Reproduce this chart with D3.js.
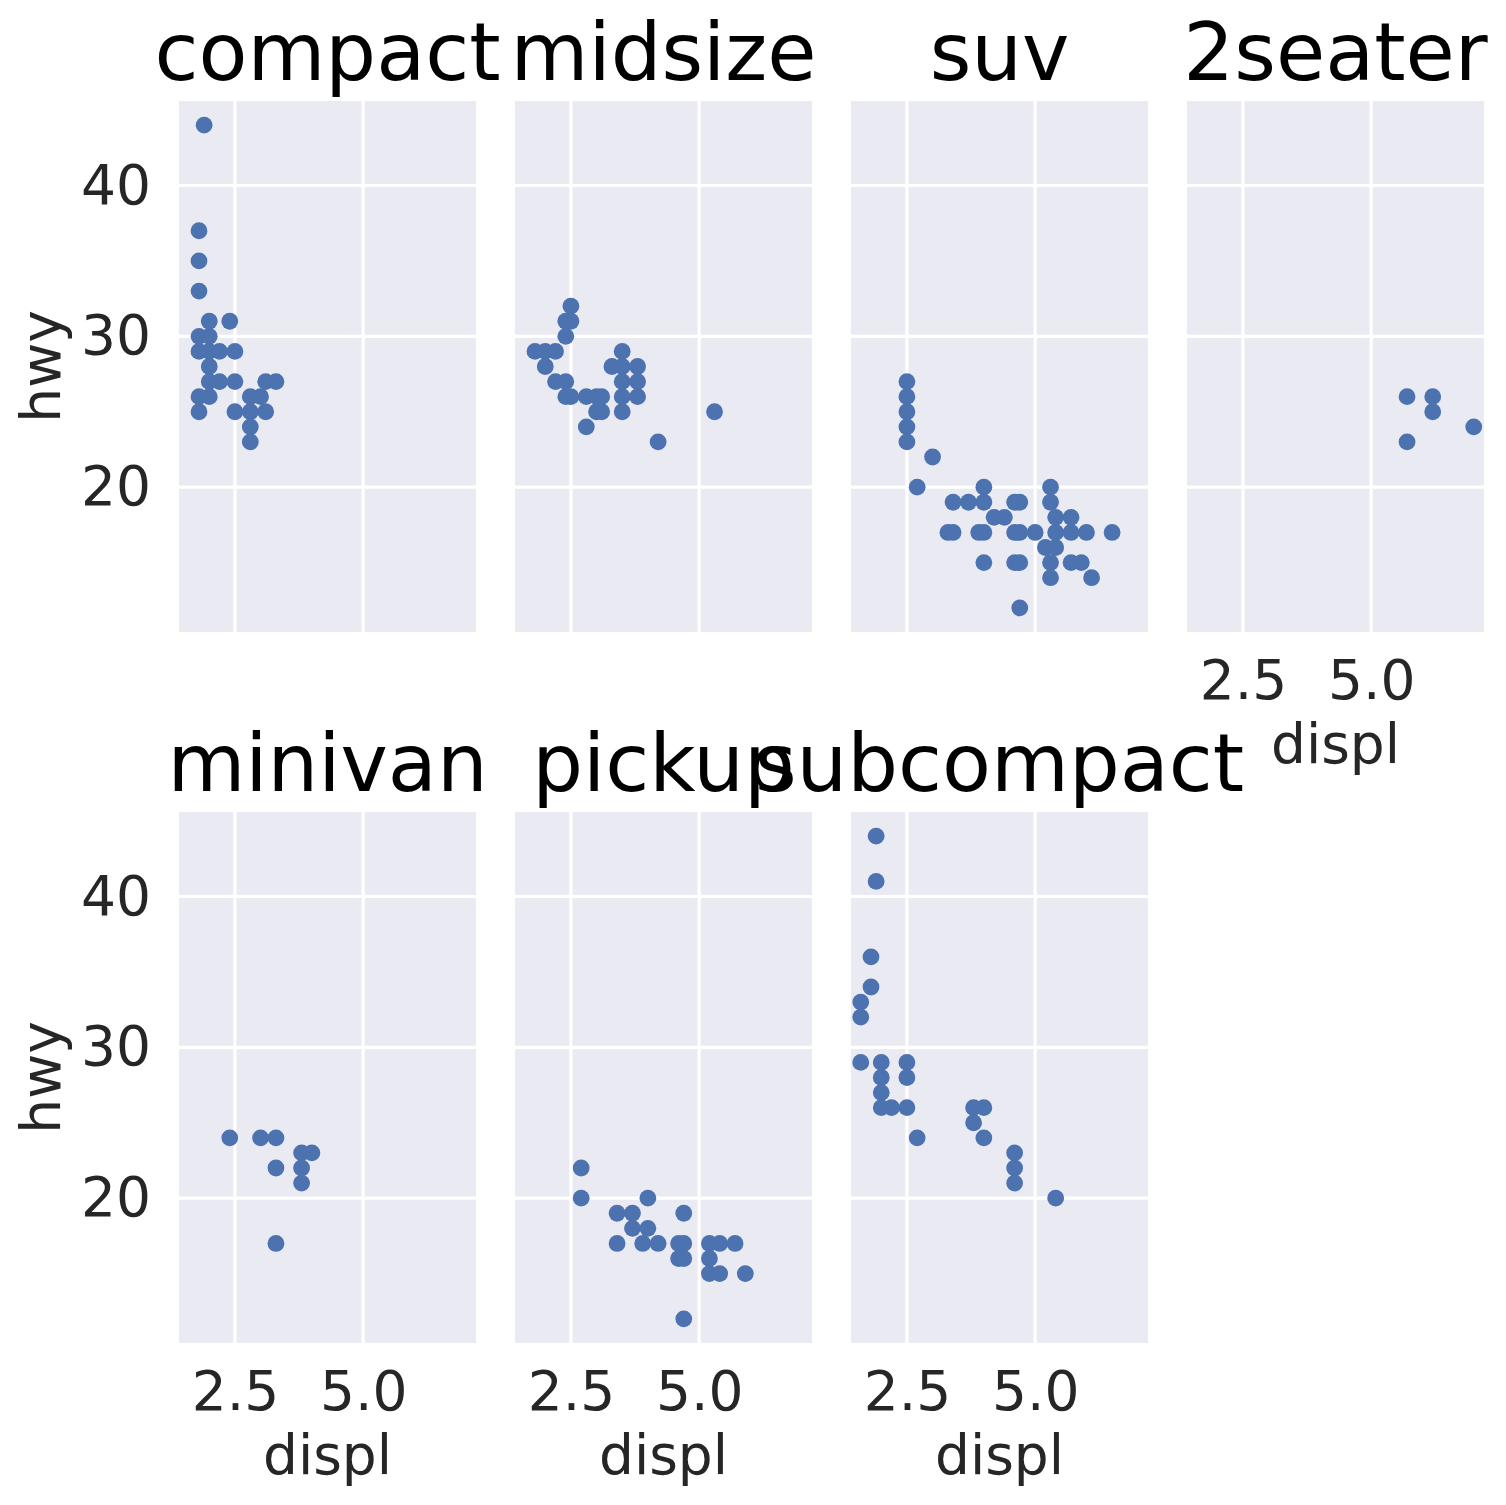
<!DOCTYPE html>
<html>
<head>
<meta charset="utf-8">
<script src="https://cdn.jsdelivr.net/npm/d3@7"></script>
<style>
  body { margin: 0; background: #fff; }
  text { font-family: "DejaVu Sans", sans-serif; }
</style>
</head>
<body>
<div id="chart"></div>
<script>
// panel order, left to right, top to bottom
var classes = ["compact", "midsize", "suv", "2seater", "minivan", "pickup", "subcompact"];

// [displ, hwy] pairs
var compact = [[1.9,44],[1.8,37],[1.8,35],[1.8,33],[2.0,31],[2.4,31],[1.8,30],[2.0,30],
	[1.8,29],[2.0,29],[2.2,29],[2.5,29],[2.0,28],[2.0,27],[2.2,27],[2.5,27],[3.1,27],[3.3,27],
	[1.8,26],[2.0,26],[2.8,26],[3.0,26],[1.8,25],[2.5,25],[2.8,25],[3.1,25],[2.8,24],[2.8,23]];
var midsize = [[2.5,32],[2.4,31],[2.5,31],[2.4,30],[1.8,29],[2.0,29],[2.2,29],[3.5,29],
	[2.0,28],[3.3,28],[3.5,28],[3.8,28],[2.2,27],[2.4,27],[3.5,27],[3.8,27],
	[2.4,26],[2.5,26],[2.8,26],[3.0,26],[3.1,26],[3.5,26],[3.8,26],
	[3.0,25],[3.1,25],[3.5,25],[5.3,25],[2.8,24],[4.2,23]];
var suv = [[2.5,27],[2.5,26],[2.5,25],[2.5,24],[2.5,23],[3.0,22],[2.7,20],[4.0,20],[5.3,20],
	[3.4,19],[3.7,19],[4.0,19],[4.6,19],[4.7,19],[5.3,19],[4.2,18],[4.4,18],[5.4,18],[5.7,18],
	[3.3,17],[3.4,17],[3.9,17],[4.0,17],[4.6,17],[4.7,17],[5.0,17],[5.4,17],[5.7,17],[6.0,17],[6.5,17],
	[5.2,16],[5.4,16],[4.0,15],[4.6,15],[4.7,15],[5.3,15],[5.7,15],[5.9,15],[5.3,14],[6.1,14],[4.7,12]];
var twoSeater = [[5.7,26],[5.7,23],[6.2,26],[6.2,25],[7.0,24]];
var minivan = [[2.4,24],[3.0,24],[3.3,24],[3.3,22],[3.3,17],[3.8,23],[4.0,23],[3.8,22],[3.8,21]];
var pickup = [[2.7,22],[2.7,20],[4.0,20],[3.4,19],[3.7,19],[4.7,19],[3.7,18],[4.0,18],
	[3.4,17],[3.9,17],[4.2,17],[4.6,17],[4.7,17],[5.2,17],[5.4,17],[5.7,17],
	[4.6,16],[4.7,16],[5.2,16],[5.2,15],[5.4,15],[5.9,15],[4.7,12]];
var subcompact = [[1.9,44],[1.9,41],[1.8,36],[1.8,34],[1.6,33],[1.6,32],[1.6,29],[2.0,29],[2.5,29],
	[2.0,28],[2.5,28],[2.0,27],[2.0,26],[2.2,26],[2.5,26],[3.8,26],[4.0,26],[3.8,25],
	[2.7,24],[4.0,24],[4.6,23],[4.6,22],[4.6,21],[5.4,20]];

var xTicks = [2.5, 5.0];
var yTicks = [20, 30, 40];

var panelData = [compact, midsize, suv, twoSeater, minivan, pickup, subcompact];

var W = 1506, H = 1505,
	panelW = 297, panelH = 531,
	colX = [179, 515, 851, 1187],
	rowY = [101, 812];

var x = d3.scaleLinear().domain([1.41, 7.2]).range([0, panelW]);
var y = d3.scaleLinear().domain([10.4, 45.6]).range([panelH, 0]);

var svg = d3.select("#chart").append("svg")
	.attr("width", W)
	.attr("height", H);

classes.forEach(function (cls, i) {
	var col = i % 4, row = Math.floor(i / 4);
	var g = svg.append("g")
		.attr("transform", "translate(" + colX[col] + "," + rowY[row] + ")");

	g.append("rect")
		.attr("width", panelW)
		.attr("height", panelH)
		.attr("fill", "#eaeaf2");

	g.selectAll("line.gx").data(xTicks).enter().append("line")
		.attr("x1", function (d) { return x(d); })
		.attr("x2", function (d) { return x(d); })
		.attr("y1", 0).attr("y2", panelH)
		.attr("stroke", "#fff").attr("stroke-width", 3.2);

	g.selectAll("line.gy").data(yTicks).enter().append("line")
		.attr("y1", function (d) { return y(d); })
		.attr("y2", function (d) { return y(d); })
		.attr("x1", 0).attr("x2", panelW)
		.attr("stroke", "#fff").attr("stroke-width", 3.2);

	g.selectAll("circle").data(panelData[i]).enter().append("circle")
		.attr("cx", function (d) { return x(d[0]); })
		.attr("cy", function (d) { return y(d[1]); })
		.attr("r", 8.4)
		.attr("fill", "#4c72b0");

	g.append("text")
		.attr("x", panelW / 2)
		.attr("y", -21)
		.attr("text-anchor", "middle")
		.attr("font-size", 80)
		.attr("fill", "#000")
		.text(cls);

	// y tick labels on the first column only
	if (col == 0) {
		var ya = g.append("g")
			.call(d3.axisLeft(y).tickValues(yTicks).tickSize(0).tickPadding(28));
		ya.select(".domain").remove();
		ya.selectAll("text")
			.attr("font-size", 55)
			.attr("font-family", "DejaVu Sans")
			.attr("fill", "#262626");

		g.append("text")
			.attr("transform", "translate(" + (60 - colX[0]) + "," + panelH / 2 + ") rotate(-90)")
			.attr("text-anchor", "middle")
			.attr("font-size", 55)
			.attr("fill", "#262626")
			.text("hwy");
	}

	// x tick labels where no panel sits below
	if (row == 1 || col == 3) {
		var xa = g.append("g")
			.attr("transform", "translate(0," + panelH + ")")
			.call(d3.axisBottom(x).tickValues(xTicks).tickSize(0).tickPadding(28).tickFormat(d3.format(".1f")));
		xa.select(".domain").remove();
		xa.selectAll("text")
			.attr("font-size", 55)
			.attr("font-family", "DejaVu Sans")
			.attr("fill", "#262626");

		g.append("text")
			.attr("x", panelW / 2)
			.attr("y", panelH + 131)
			.attr("text-anchor", "middle")
			.attr("font-size", 55)
			.attr("fill", "#262626")
			.text("displ");
	}
});
</script>
</body>
</html>
